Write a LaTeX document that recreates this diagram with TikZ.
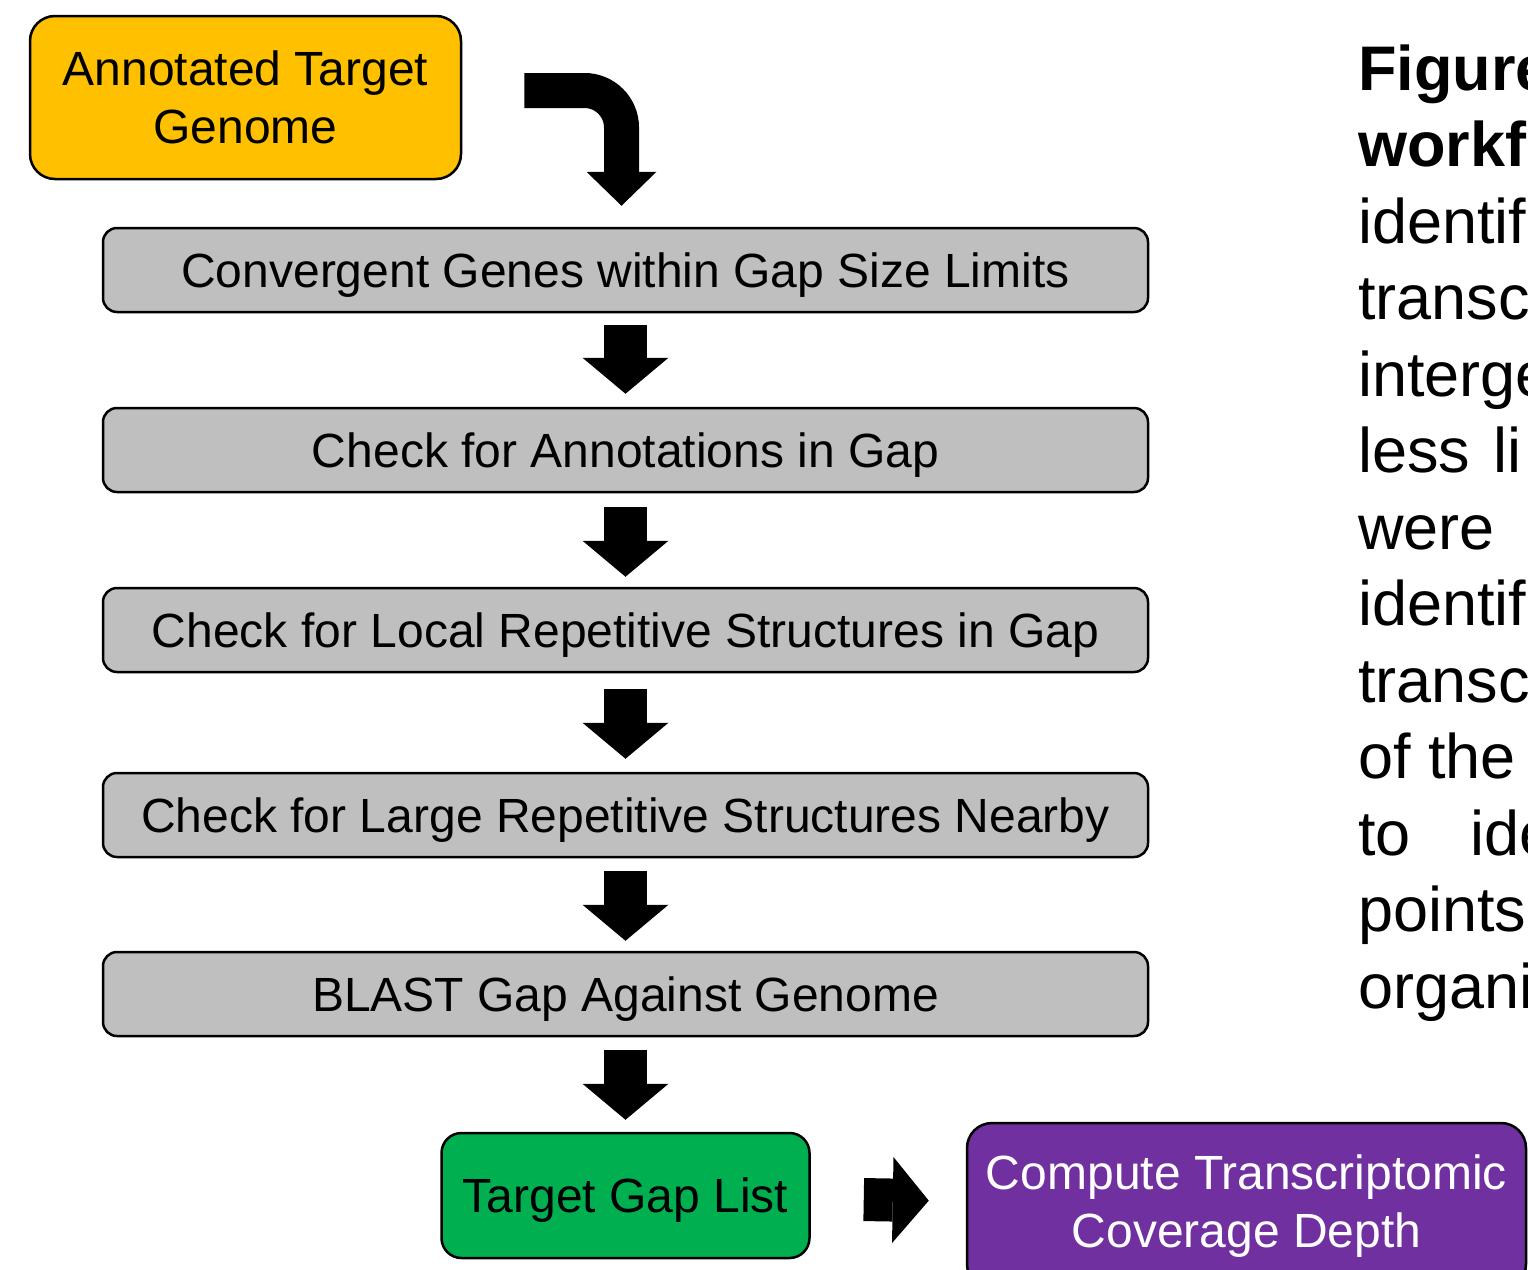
\documentclass[tikz,border=0pt]{standalone}
\usepackage{fontspec}
\setmainfont{Liberation Sans}
\usetikzlibrary{arrows.meta,positioning}

\definecolor{boxgray}{HTML}{BFBFBF}
\definecolor{genomegold}{HTML}{FFC000}
\definecolor{listgreen}{HTML}{00B050}
\definecolor{depthpurple}{HTML}{7030A0}

\newcommand{\boxfont}{\fontsize{48}{57.5}\selectfont}
\newcommand{\capfont}{\fontsize{63}{76}\selectfont}

\tikzset{
    flowbox/.style={draw, line width=2.5pt, inner sep=0pt, align=center, font=\boxfont},
    oneline/.style={text height=34pt, text depth=0pt},
    stepbox/.style={flowbox, oneline, fill=boxgray, rounded corners=14pt,
        minimum width=1045pt, minimum height=84pt},
    startbox/.style={flowbox, fill=genomegold, rounded corners=25pt,
        minimum width=431pt, minimum height=163pt},
    listbox/.style={flowbox, oneline, fill=listgreen, rounded corners=20pt,
        minimum width=368pt, minimum height=125pt},
    depthbox/.style={flowbox, fill=depthpurple, text=white, rounded corners=25pt,
        minimum width=559pt, minimum height=166pt},
    blockarrow/.style={line width=43pt,
        -{Triangle[length=36pt,width=86pt,line width=0pt]}},
    bendarrow/.style={line width=35pt, rounded corners=37pt,
        -{Triangle[length=34pt,width=70pt,line width=0pt]}},
    captext/.style={anchor=base west, inner sep=0pt, font=\capfont},
}

\begin{document}
\begin{tikzpicture}[x=1pt,y=-1pt]
    \useasboundingbox (0,0) rectangle (1528,1269);

    % boxes
    \node[startbox] (genome) at (245.5,97.5) {Annotated Target\\Genome};
    \node[stepbox] (conv) at (625.5,270) {Convergent Genes within Gap Size Limits};
    \node[stepbox, below=93.5pt of conv] (annot) {Check for Annotations in Gap};
    \node[stepbox, below=93.5pt of annot] (local) {Check for Local Repetitive Structures in Gap};
    \node[stepbox, below=98.5pt of local] (large) {Check for Large Repetitive Structures Nearby};
    \node[stepbox, below=92.5pt of large] (blast) {BLAST Gap Against Genome};
    \node[listbox, below=94.5pt of blast] (gaplist) {Target Gap List};
    \node[depthbox] (depth) at (1246.5,1206) {Compute Transcriptomic\\Coverage Depth};

    % block arrows
    \draw[bendarrow] ([shift={(62pt,7pt)}]genome.east) -| ([shift={(-4pt,21pt)}]conv.north);
    \draw[blockarrow, shorten <=12pt, shorten >=13pt] (conv) -- (annot);
    \draw[blockarrow, shorten <=14pt, shorten >=10pt] (annot) -- (local);
    \draw[blockarrow, shorten <=16pt, shorten >=13pt] (local) -- (large);
    \draw[blockarrow, shorten <=13pt, shorten >=10pt] (large) -- (blast);
    \draw[blockarrow, shorten <=13pt, shorten >=12pt] (blast) -- (gaplist);
    \draw[blockarrow, shorten <=53pt, shorten >=37pt] (gaplist) -- (depth);

    % caption, cut by the page edge
    \node[captext, font=\capfont\bfseries] (cap1) at (1358,90) {Figure};
    \node[captext, font=\capfont\bfseries] (cap2) at (1358,166.5) {workf};
    \foreach \txt [count=\i] in {identif, transc, interge, less\hspace{23pt}li, were,
        identif, transc, of the, to\hspace{60pt}ide, points, organi}
        \node[captext] (capl\i) at (1358,{243+76.5*(\i-1)}) {\txt};
\end{tikzpicture}
\end{document}
